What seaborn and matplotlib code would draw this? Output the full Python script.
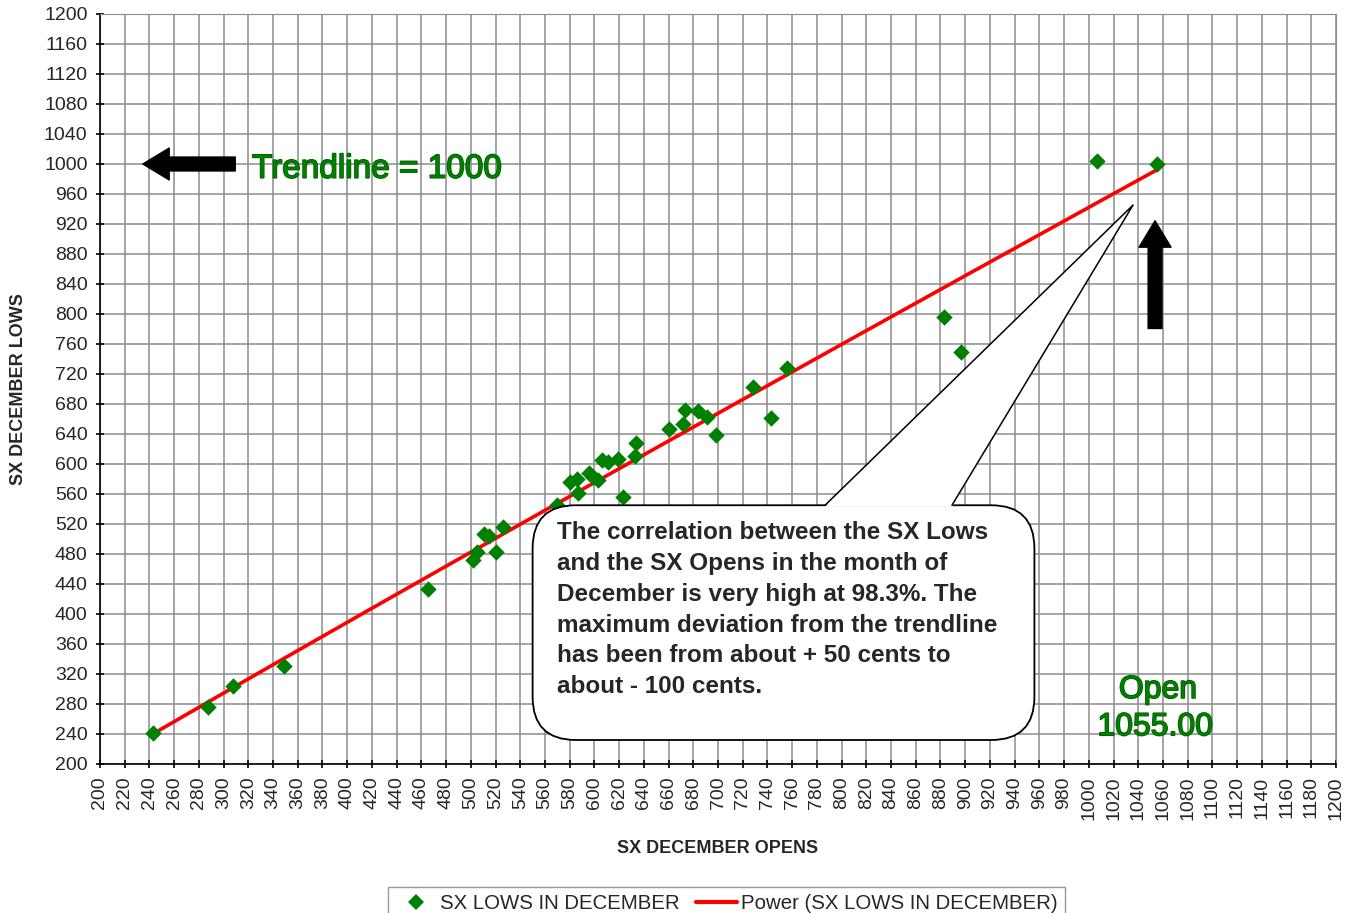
import numpy as np
import pandas as pd
import matplotlib
matplotlib.use("Agg")
import matplotlib.pyplot as plt
import matplotlib.patheffects as pe
from matplotlib.patches import FancyBboxPatch, Polygon, FancyArrowPatch
from matplotlib.lines import Line2D
import seaborn as sns

# SX December opens (x) and lows (y)
opens = [243, 287, 308, 349, 465, 502, 505, 511, 515, 520, 526,
         570, 580, 586, 587, 596, 599, 603, 606, 611, 619, 623,
         633, 634, 660, 672, 673, 684, 691, 698, 728, 743, 756,
         883, 897, 1007, 1055]
lows = [241, 276, 304, 331, 433, 472, 483, 507, 504, 483, 516,
        545, 576, 580, 561, 588, 583, 579, 605, 603, 606, 556,
        610, 628, 646, 653, 672, 670, 663, 639, 702, 661, 728,
        796, 749, 1004, 1000]

x_ticks = list(range(200, 1201, 20))
y_ticks = list(range(200, 1201, 40))

note = ("The correlation between the SX Lows\n"
        "and the SX Opens in the month of\n"
        "December is very high at 98.3%. The\n"
        "maximum deviation from the trendline\n"
        "has been from about + 50 cents to\n"
        "about - 100 cents.")

GREEN = "#008000"


def main():
    df = pd.DataFrame({"open": opens, "low": lows})

    # power trendline y = a * x^b (fit in log-log space)
    b, loga = np.polyfit(np.log(df["open"]), np.log(df["low"]), 1)
    xs = np.linspace(df["open"].min(), df["open"].max(), 200)
    trend = pd.DataFrame({"open": xs, "low": np.exp(loga) * xs ** b})

    sns.set_style("white")
    plt.rcParams["font.family"] = ["Liberation Sans", "DejaVu Sans"]

    fig = plt.figure(figsize=(13.52, 9.13), dpi=100)
    ax = fig.add_axes([100 / 1352, 1 - 764 / 913, 1236 / 1352, 750 / 913])

    sns.lineplot(data=trend, x="open", y="low", ax=ax, color="#ff0000",
                 linewidth=2.6, zorder=3)
    sns.scatterplot(data=df, x="open", y="low", ax=ax, marker="D", s=70,
                    color=GREEN, linewidth=0, zorder=4)

    ax.set_xlim(200, 1200)
    ax.set_ylim(200, 1200)
    ax.set_xticks(x_ticks)
    ax.set_yticks(y_ticks)
    ax.set_xticklabels([str(v) for v in x_ticks], rotation=90, fontsize=14)
    ax.set_yticklabels([str(v) for v in y_ticks], fontsize=14)
    ax.tick_params(axis="both", direction="inout", length=6, width=1.2,
                   color="black", left=True, bottom=True)
    ax.tick_params(axis="x", pad=6)
    ax.tick_params(axis="y", pad=6)
    ax.grid(True, color="#8c8c8c", linewidth=1.1)
    ax.set_axisbelow(True)
    for side in ["top", "right"]:
        ax.spines[side].set_color("#8c8c8c")
    for side in ["left", "bottom"]:
        ax.spines[side].set_color("black")
        ax.spines[side].set_linewidth(1.2)

    ax.set_xlabel("SX DECEMBER OPENS", fontsize=13, fontweight="bold",
                  labelpad=14)
    ax.set_ylabel("SX DECEMBER LOWS", fontsize=13, fontweight="bold",
                  labelpad=12)

    # callout box with wedge pointer
    box = FancyBboxPatch((0.350, 0.032), 0.406, 0.313,
                         boxstyle="round,pad=0,rounding_size=0.035",
                         mutation_aspect=1236 / 750,
                         transform=ax.transAxes, facecolor="white",
                         edgecolor="black", linewidth=1.3, zorder=5)
    ax.add_patch(box)
    bl, tip, br = (0.5866, 0.343), (0.8358, 0.7453), (0.6893, 0.343)
    ax.add_patch(Polygon([bl, tip, br], closed=True, transform=ax.transAxes,
                         facecolor="white", edgecolor="none", zorder=6))
    ax.add_line(Line2D([bl[0], tip[0], br[0]], [0.345, tip[1], 0.345],
                       transform=ax.transAxes, color="black", linewidth=1.1,
                       zorder=7))
    ax.text(0.3697, 0.3235, note, transform=ax.transAxes, ha="left", va="top",
            fontsize=17.5, fontweight="bold", linespacing=1.43, zorder=8)

    # arrows
    for tail, head in [((0.1117, 0.8), (0.0324, 0.8)),
                       ((0.8536, 0.577), (0.8536, 0.728))]:
        ax.add_patch(FancyArrowPatch(
            tail, head, transform=ax.transAxes,
            arrowstyle="simple,head_length=19,head_width=23,tail_width=10",
            mutation_scale=1, color="black", zorder=6))

    word = dict(color=GREEN, family=["Liberation Sans Narrow", "Liberation Sans"],
                path_effects=[pe.withStroke(linewidth=1.2, foreground="#006000")],
                transform=ax.transAxes, ha="center", va="center", zorder=8)
    ax.text(0.224, 0.793, "Trendline = 1000", fontsize=24, **word)
    ax.text(0.856, 0.0987, "Open", fontsize=23, **word)
    ax.text(0.8536, 0.049, "1055.00", fontsize=23, **word)

    handles = [Line2D([], [], marker="D", color=GREEN, linestyle="none",
                      markersize=8, markeredgewidth=0),
               Line2D([], [], color="#ff0000", linewidth=3)]
    fig.legend(handles, ["SX LOWS IN DECEMBER", "Power (SX LOWS IN DECEMBER)"],
               loc="upper center", bbox_to_anchor=(0.5375, 1 - 877 / 913),
               ncol=2, fontsize=14.7, frameon=True, fancybox=False,
               edgecolor="#808080", handlelength=2.0, handletextpad=0.2,
               columnspacing=0.8, borderpad=0.35)

    fig.savefig("out.png", dpi=100)


if __name__ == "__main__":
    main()
